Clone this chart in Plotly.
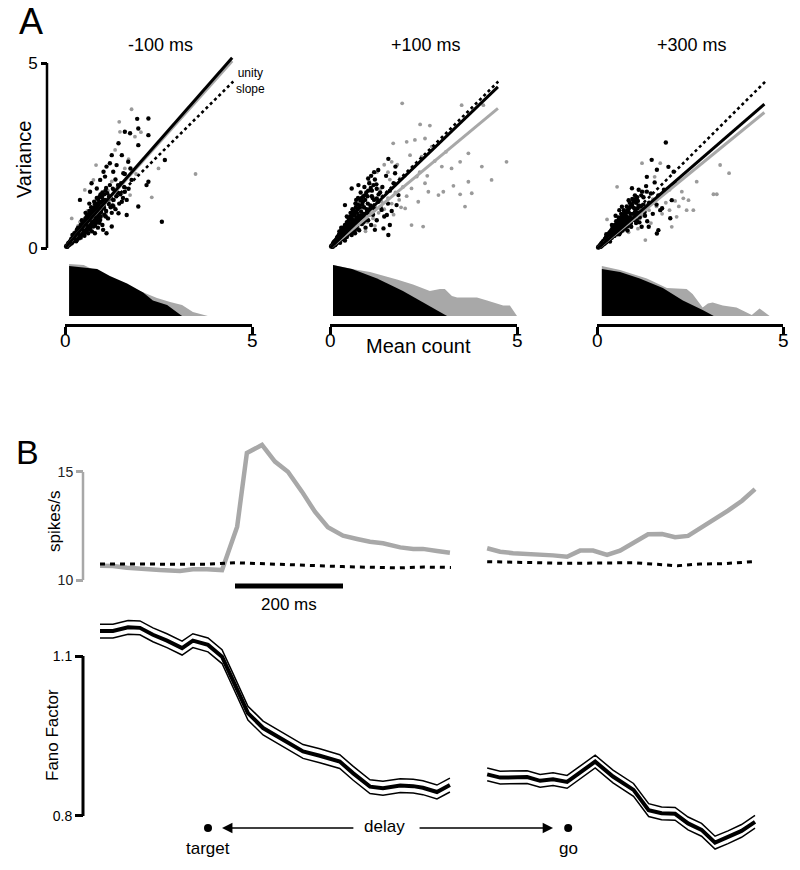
import plotly.graph_objects as go

W, H = 800, 870
FONT = "Liberation Sans, Arial, Helvetica, sans-serif"
GRAY = "#a8a8a8"

# ------------------------------------------------------------------ data: panel A
a_titles = ["-100 ms", "+100 ms", "+300 ms"]
a_ticks = [0, 5]
a_black_slope = [1.15, 0.97, 0.87]
a_gray_slope = [1.13, 0.84, 0.82]
a_line_end = [4.47, 4.49, 4.50]
unity_end = [4.50, 4.50, 4.55]

a1_black = [(1.93, 3.49), (2.23, 3.50), (1.96, 3.23), (1.60, 3.14), (1.74, 3.10), (2.23, 3.05),
            (1.43, 2.83), (1.96, 2.78), (1.25, 2.51), (1.52, 2.51), (1.69, 2.33), (1.11, 2.20),
            (1.03, 2.06), (1.29, 2.06), (2.23, 1.79), (2.67, 2.38), (2.18, 1.70), (1.65, 1.30),
            (1.96, 1.12), (1.65, 0.89), (2.59, 0.71), (1.25, 0.58), (1.11, 0.40), (0.71, 1.75),
            (0.67, 1.52), (0.40, 1.30), (0.85, 1.61), (0.94, 1.84), (1.07, 1.93), (1.20, 2.29),
            (1.38, 2.24), (1.56, 2.02), (1.78, 1.84), (1.47, 1.48), (1.60, 1.52), (1.29, 1.12),
            (1.43, 0.94), (0.94, 0.76), (1.02, 0.49), (0.80, 0.40),
            (0.05, 0.05), (0.08, 0.10), (0.10, 0.08), (0.12, 0.15), (0.15, 0.12), (0.15, 0.20),
            (0.18, 0.22), (0.20, 0.16), (0.22, 0.28), (0.25, 0.22), (0.25, 0.32), (0.28, 0.25),
            (0.30, 0.38), (0.30, 0.30), (0.32, 0.22), (0.35, 0.42), (0.35, 0.30), (0.38, 0.48),
            (0.40, 0.35), (0.40, 0.55), (0.42, 0.28), (0.45, 0.50), (0.45, 0.62), (0.48, 0.40),
            (0.50, 0.70), (0.50, 0.45), (0.52, 0.33), (0.55, 0.60), (0.55, 0.80), (0.58, 0.48),
            (0.60, 0.72), (0.60, 0.90), (0.62, 0.40), (0.65, 0.65), (0.65, 1.00), (0.68, 0.55),
            (0.70, 0.82), (0.70, 1.10), (0.72, 0.45), (0.75, 0.70), (0.75, 0.95), (0.78, 1.25),
            (0.80, 0.60), (0.80, 0.88), (0.82, 1.05), (0.85, 0.75), (0.85, 1.35), (0.88, 0.55),
            (0.90, 1.00), (0.90, 1.20), (0.92, 0.68), (0.95, 0.85), (0.95, 1.45), (1.00, 1.10),
            (1.00, 0.62), (1.02, 1.30), (1.05, 0.90), (1.08, 1.55), (1.10, 1.00), (1.12, 1.25),
            (1.15, 0.80), (1.18, 1.40), (1.20, 1.70), (1.22, 1.10), (1.25, 0.95), (1.28, 1.60),
            (1.30, 1.30), (1.35, 1.85), (1.35, 1.05), (1.40, 1.50), (1.45, 1.20), (1.50, 1.75),
            (1.55, 1.35), (1.60, 2.00), (1.70, 1.60), (1.75, 2.15), (0.20, 0.35), (0.30, 0.18),
            (0.40, 0.45), (0.50, 0.58), (0.60, 0.55), (0.70, 0.60), (0.55, 0.95), (0.45, 0.75),
            (0.35, 0.55), (0.25, 0.40), (0.65, 1.20), (0.78, 0.80), (0.88, 0.90), (0.98, 1.25),
            (1.05, 1.45), (0.32, 0.50), (0.42, 0.62), (0.58, 0.85), (0.68, 0.95), (0.62, 0.70),
            (0.03, 0.04), (0.06, 0.03), (0.07, 0.08), (0.09, 0.13), (0.11, 0.10), (0.13, 0.12),
            (0.14, 0.18), (0.16, 0.15), (0.17, 0.25), (0.19, 0.19), (0.21, 0.22), (0.23, 0.26),
            (0.24, 0.35), (0.26, 0.28), (0.27, 0.20), (0.29, 0.33), (0.31, 0.27), (0.33, 0.36),
            (0.34, 0.47), (0.36, 0.38), (0.37, 0.26), (0.39, 0.42), (0.41, 0.50), (0.43, 0.44),
            (0.44, 0.35), (0.46, 0.56), (0.47, 0.48), (0.49, 0.62), (0.51, 0.51), (0.53, 0.68),
            (0.54, 0.42), (0.56, 0.55), (0.57, 0.74), (0.59, 0.63), (0.61, 0.80), (0.63, 0.58),
            (0.64, 0.87), (0.66, 0.72), (0.67, 0.50), (0.69, 0.90), (0.71, 0.68), (0.73, 0.98),
            (0.74, 0.78), (0.76, 0.58), (0.77, 1.08), (0.79, 0.92), (0.81, 0.70), (0.83, 1.15),
            (0.84, 0.95), (0.86, 1.05), (0.87, 0.82), (0.89, 1.30), (0.91, 1.12), (0.93, 0.95),
            (0.94, 1.22), (0.97, 1.02), (0.99, 1.38), (1.03, 1.18), (1.07, 1.30), (1.09, 0.85),
            (1.13, 1.48), (1.17, 1.20), (1.23, 1.35), (1.27, 1.15), (1.33, 1.55), (1.37, 1.40),
            (1.42, 1.70), (1.48, 1.45), (1.52, 1.25), (1.58, 1.65),
            (0.04, 0.06), (0.08, 0.06), (0.10, 0.14), (0.12, 0.09), (0.14, 0.16), (0.16, 0.21),
            (0.18, 0.13), (0.20, 0.26), (0.22, 0.18), (0.24, 0.29), (0.26, 0.36), (0.28, 0.31),
            (0.30, 0.42), (0.32, 0.33), (0.34, 0.39), (0.36, 0.50), (0.38, 0.34), (0.40, 0.47),
            (0.42, 0.56), (0.44, 0.46), (0.46, 0.66), (0.48, 0.53), (0.50, 0.49), (0.52, 0.64),
            (0.54, 0.74), (0.56, 0.66), (0.58, 0.58), (0.60, 0.84), (0.62, 0.76), (0.64, 0.62),
            (0.66, 0.92), (0.68, 0.80), (0.70, 0.70), (0.72, 1.00), (0.74, 0.88), (0.76, 0.76),
            (0.78, 1.02), (0.80, 1.18), (0.82, 0.90), (0.84, 0.68), (0.86, 1.20), (0.88, 1.10),
            (0.92, 1.38), (0.96, 0.96), (1.00, 1.50), (1.04, 1.10), (1.10, 1.62), (1.16, 1.32)]
a1_gray = [(1.78, 3.75), (1.45, 3.41), (1.47, 3.14), (2.03, 3.13), (0.83, 2.24), (3.49, 2.00),
           (2.32, 1.37), (2.50, 2.15), (0.18, 0.80), (1.87, 3.01), (1.34, 2.65), (0.76, 1.84),
           (0.53, 1.57), (1.74, 1.43),
           (0.10, 0.12), (0.18, 0.15), (0.25, 0.30), (0.30, 0.25), (0.38, 0.40), (0.45, 0.42),
           (0.50, 0.55), (0.55, 0.50), (0.60, 0.65), (0.65, 0.58), (0.70, 0.78), (0.75, 0.65),
           (0.80, 0.95), (0.85, 0.82), (0.90, 0.75), (0.95, 1.05), (1.00, 0.85), (1.05, 1.15),
           (1.10, 0.95), (1.20, 1.30), (1.30, 1.15), (1.40, 1.65), (1.55, 1.50), (0.60, 1.00),
           (0.40, 0.70), (1.70, 2.40), (1.90, 2.00), (0.35, 0.60), (0.52, 0.80), (0.72, 1.02),
           (0.92, 1.25), (1.15, 1.55), (0.28, 0.45), (0.48, 0.68), (1.25, 1.80), (1.60, 2.15)]

a2_black = [(1.56, 2.41), (1.18, 2.05), (1.29, 2.11), (0.58, 1.61), (0.76, 1.70), (1.02, 1.88),
            (1.74, 2.02), (1.83, 1.43), (1.60, 0.62), (1.43, 0.53), (1.56, 0.35), (1.20, 0.49),
            (1.78, 1.16), (1.52, 0.89), (0.94, 1.43), (0.40, 1.16), (1.25, 1.34), (1.38, 1.03),
            (0.05, 0.05), (0.08, 0.12), (0.10, 0.06), (0.12, 0.18), (0.15, 0.10), (0.18, 0.25),
            (0.20, 0.15), (0.22, 0.32), (0.25, 0.20), (0.28, 0.38), (0.30, 0.25), (0.32, 0.45),
            (0.35, 0.30), (0.35, 0.55), (0.38, 0.22), (0.40, 0.62), (0.42, 0.38), (0.45, 0.70),
            (0.45, 0.30), (0.48, 0.52), (0.50, 0.80), (0.52, 0.42), (0.55, 0.65), (0.55, 0.95),
            (0.58, 0.35), (0.60, 0.75), (0.60, 1.05), (0.62, 0.50), (0.65, 0.88), (0.68, 1.20),
            (0.70, 0.60), (0.72, 0.95), (0.75, 1.35), (0.78, 0.48), (0.80, 0.80), (0.80, 1.10),
            (0.82, 1.50), (0.85, 0.65), (0.88, 1.25), (0.90, 0.92), (0.92, 1.65), (0.95, 0.55),
            (0.98, 1.05), (1.00, 1.40), (1.02, 0.75), (1.05, 1.75), (1.08, 1.15), (1.10, 0.62),
            (1.12, 1.55), (1.15, 0.90), (1.18, 1.30), (1.20, 1.85), (1.25, 0.75), (1.30, 1.45),
            (1.35, 1.10), (1.40, 1.65), (1.45, 0.85), (1.50, 1.95), (1.55, 1.20), (1.60, 1.55),
            (1.65, 1.00), (1.70, 1.75), (1.75, 2.20), (0.25, 0.45), (0.40, 0.20), (0.50, 0.60),
            (0.65, 0.45), (0.75, 0.75), (0.90, 0.70), (1.00, 1.00), (0.30, 0.55), (0.45, 0.85),
            (0.60, 0.95), (0.85, 1.35), (0.70, 1.30), (1.10, 1.95), (1.25, 1.60),
            (0.03, 0.04), (0.06, 0.07), (0.07, 0.03), (0.09, 0.10), (0.11, 0.14), (0.13, 0.09),
            (0.14, 0.20), (0.16, 0.16), (0.17, 0.12), (0.19, 0.28), (0.21, 0.22), (0.23, 0.18),
            (0.24, 0.36), (0.26, 0.28), (0.27, 0.14), (0.29, 0.42), (0.31, 0.34), (0.33, 0.28),
            (0.34, 0.50), (0.36, 0.40), (0.37, 0.33), (0.39, 0.55), (0.41, 0.46), (0.43, 0.30),
            (0.44, 0.62), (0.46, 0.50), (0.47, 0.40), (0.49, 0.72), (0.51, 0.55), (0.53, 0.45),
            (0.54, 0.85), (0.56, 0.62), (0.57, 0.50), (0.59, 0.90), (0.61, 0.68), (0.63, 0.58),
            (0.64, 1.00), (0.66, 0.75), (0.67, 0.40), (0.69, 1.10), (0.71, 0.82), (0.73, 0.62),
            (0.74, 1.18), (0.76, 0.88), (0.79, 0.70), (0.81, 1.28), (0.83, 0.98), (0.86, 0.80),
            (0.89, 1.40), (0.91, 1.10), (0.94, 0.75), (0.97, 1.50), (1.01, 1.20), (1.04, 0.90),
            (1.09, 1.62), (1.14, 1.35), (1.19, 1.05), (1.24, 1.72), (1.29, 1.25), (1.34, 1.50),
            (0.04, 0.06), (0.08, 0.08), (0.10, 0.16), (0.12, 0.12), (0.14, 0.08), (0.16, 0.22),
            (0.18, 0.18), (0.20, 0.30), (0.22, 0.24), (0.24, 0.16), (0.26, 0.40), (0.28, 0.30),
            (0.30, 0.48), (0.32, 0.36), (0.34, 0.24), (0.36, 0.52), (0.38, 0.42), (0.40, 0.30),
            (0.42, 0.60), (0.44, 0.48), (0.46, 0.36), (0.48, 0.66), (0.50, 0.52), (0.52, 0.40),
            (0.54, 0.76), (0.56, 0.58), (0.58, 0.80), (0.60, 0.62), (0.62, 0.45), (0.64, 0.92),
            (0.66, 0.68), (0.68, 0.98), (0.70, 0.72), (0.72, 0.52), (0.74, 1.05), (0.76, 0.80),
            (0.78, 1.15), (0.82, 0.88), (0.86, 1.18), (0.90, 0.82), (0.94, 1.30), (0.98, 0.95),
            (1.02, 1.55), (1.06, 1.05), (1.12, 1.40), (1.16, 1.70)]
a2_gray = [(1.93, 3.91), (3.52, 3.86), (4.10, 3.86), (2.41, 3.34), (2.67, 3.31), (1.69, 2.83),
           (2.05, 2.87), (2.27, 2.92), (2.54, 2.96), (2.72, 2.74), (2.14, 2.51), (2.45, 2.47),
           (2.99, 2.20), (3.48, 2.33), (3.70, 2.56), (4.06, 2.20), (4.72, 2.33), (4.32, 1.84),
           (3.70, 1.79), (3.30, 1.68), (3.03, 1.52), (2.90, 1.43), (2.63, 1.52), (2.54, 1.75),
           (3.48, 1.45), (3.79, 1.48), (3.61, 1.12), (2.36, 1.25), (2.18, 0.62), (2.49, 0.58),
           (2.01, 1.07), (2.18, 1.61), (1.87, 1.88), (1.65, 2.33), (3.25, 2.15), (2.32, 1.93),
           (0.10, 0.08), (0.18, 0.14), (0.25, 0.22), (0.30, 0.30), (0.38, 0.28), (0.45, 0.40),
           (0.50, 0.35), (0.55, 0.50), (0.62, 0.45), (0.68, 0.62), (0.75, 0.55), (0.80, 0.72),
           (0.88, 0.65), (0.95, 0.85), (1.00, 0.70), (1.08, 0.95), (1.15, 0.80), (1.22, 1.10),
           (1.30, 0.95), (1.38, 1.25), (1.45, 1.05), (1.55, 1.35), (1.65, 1.20), (1.75, 1.50),
           (1.85, 1.30), (1.95, 1.65), (2.05, 1.40), (0.40, 0.60), (0.60, 0.85), (0.85, 1.05),
           (1.10, 1.40), (1.35, 1.60), (1.60, 1.85), (1.25, 2.05), (1.45, 2.25), (1.05, 1.80),
           (1.55, 2.05), (1.80, 2.25), (2.00, 1.95), (1.20, 0.60), (0.95, 0.45), (1.70, 0.90),
           (1.90, 1.10), (2.25, 2.20), (2.60, 1.95), (2.80, 2.35), (3.10, 2.60), (2.40, 2.05)]

a3_black = [(1.85, 2.88), (1.47, 2.41), (1.61, 2.14), (1.92, 2.22), (2.06, 2.09), (1.34, 1.95),
            (0.94, 1.64), (1.21, 1.55), (2.01, 1.32), (1.70, 1.05), (1.97, 0.83), (1.65, 0.51),
            (1.61, 0.42), (1.39, 0.60), (1.07, 0.78), (2.10, 1.78), (0.85, 1.32), (0.67, 1.14),
            (0.05, 0.05), (0.08, 0.10), (0.10, 0.06), (0.12, 0.16), (0.15, 0.10), (0.18, 0.22),
            (0.20, 0.14), (0.22, 0.28), (0.25, 0.18), (0.28, 0.35), (0.30, 0.22), (0.32, 0.42),
            (0.35, 0.28), (0.38, 0.50), (0.40, 0.32), (0.42, 0.58), (0.45, 0.35), (0.48, 0.65),
            (0.50, 0.42), (0.52, 0.75), (0.55, 0.48), (0.58, 0.85), (0.60, 0.40), (0.62, 0.68),
            (0.65, 0.95), (0.68, 0.55), (0.70, 0.80), (0.72, 1.05), (0.75, 0.62), (0.78, 0.90),
            (0.80, 1.15), (0.82, 0.50), (0.85, 0.75), (0.88, 1.25), (0.90, 0.95), (0.92, 0.60),
            (0.95, 1.35), (0.98, 0.82), (1.00, 1.10), (1.02, 1.45), (1.05, 0.70), (1.08, 0.98),
            (1.10, 1.30), (1.12, 1.60), (1.15, 0.85), (1.18, 1.15), (1.20, 0.60), (1.25, 1.40),
            (1.28, 1.00), (1.32, 1.70), (1.35, 0.75), (1.40, 1.25), (1.45, 1.50), (1.50, 0.95),
            (1.55, 1.80), (1.60, 1.20), (1.65, 1.45), (1.75, 1.10), (1.80, 1.60), (0.25, 0.40),
            (0.35, 0.20), (0.45, 0.55), (0.55, 0.65), (0.65, 0.75), (0.75, 0.85), (0.85, 1.00),
            (0.40, 0.65), (0.50, 0.90), (0.60, 1.05), (0.95, 1.15), (1.05, 1.25),
            (0.03, 0.04), (0.06, 0.05), (0.07, 0.09), (0.09, 0.07), (0.11, 0.13), (0.13, 0.11),
            (0.14, 0.18), (0.16, 0.14), (0.17, 0.22), (0.19, 0.17), (0.21, 0.26), (0.23, 0.20),
            (0.24, 0.32), (0.26, 0.24), (0.27, 0.30), (0.29, 0.26), (0.31, 0.38), (0.33, 0.30),
            (0.34, 0.45), (0.36, 0.34), (0.37, 0.40), (0.39, 0.30), (0.41, 0.48), (0.43, 0.40),
            (0.44, 0.55), (0.46, 0.44), (0.47, 0.36), (0.49, 0.58), (0.51, 0.50), (0.53, 0.62),
            (0.54, 0.40), (0.56, 0.70), (0.57, 0.56), (0.59, 0.78), (0.61, 0.60), (0.63, 0.45),
            (0.64, 0.82), (0.66, 0.66), (0.67, 0.88), (0.69, 0.50), (0.71, 0.72), (0.73, 0.95),
            (0.74, 0.70), (0.76, 0.55), (0.79, 1.00), (0.81, 0.80), (0.83, 0.62), (0.86, 1.10),
            (0.89, 0.85), (0.91, 0.70), (0.94, 1.20), (0.97, 0.95), (1.01, 0.78), (1.04, 1.35),
            (1.09, 1.10), (1.14, 0.72), (1.19, 1.45), (1.24, 1.20), (1.29, 0.90), (1.34, 1.55),
            (0.04, 0.06), (0.08, 0.07), (0.10, 0.12), (0.12, 0.08), (0.14, 0.14), (0.16, 0.19),
            (0.18, 0.15), (0.20, 0.24), (0.22, 0.17), (0.24, 0.27), (0.26, 0.34), (0.28, 0.24),
            (0.30, 0.36), (0.32, 0.28), (0.34, 0.40), (0.36, 0.47), (0.38, 0.36), (0.40, 0.52),
            (0.42, 0.40), (0.44, 0.48), (0.46, 0.60), (0.48, 0.45), (0.50, 0.64), (0.52, 0.50),
            (0.54, 0.72), (0.56, 0.56), (0.58, 0.46), (0.60, 0.76), (0.62, 0.60), (0.64, 0.70),
            (0.66, 0.86), (0.68, 0.64), (0.70, 0.92), (0.72, 0.62), (0.74, 1.00), (0.78, 0.76),
            (0.82, 1.05), (0.86, 0.85), (0.90, 1.15), (0.94, 0.82), (0.98, 1.28), (1.02, 1.00),
            (1.08, 1.40), (1.12, 1.18)]
a3_gray = [(3.31, 2.27), (3.55, 2.05), (3.13, 1.48), (3.22, 1.48), (2.68, 1.82), (2.28, 1.55),
           (2.46, 1.32), (2.41, 1.05), (2.59, 1.05), (2.14, 0.87), (2.01, 0.60), (1.30, 0.24),
           (1.70, 2.32), (1.21, 2.32), (0.54, 1.68), (0.27, 0.80), (2.32, 1.37),
           (0.10, 0.10), (0.18, 0.14), (0.25, 0.24), (0.32, 0.26), (0.40, 0.38), (0.48, 0.40),
           (0.55, 0.52), (0.62, 0.50), (0.70, 0.65), (0.78, 0.60), (0.85, 0.82), (0.92, 0.70),
           (1.00, 0.95), (1.08, 0.80), (1.15, 1.05), (1.22, 0.90), (1.30, 1.20), (1.40, 1.05),
           (1.50, 1.35), (1.60, 1.15), (1.70, 1.45), (1.85, 1.25), (1.95, 1.60), (2.10, 1.30),
           (0.50, 0.75), (0.75, 1.05), (1.00, 1.30), (1.25, 1.55), (1.45, 0.70), (1.75, 0.95),
           (1.95, 1.05), (2.20, 1.15), (1.10, 0.55), (0.85, 0.45), (1.55, 1.95), (2.05, 1.75)]

# mean-count distributions (x = mean count, h = relative density)
a1_hist_black_x = [0.11, 0.11, 0.86, 1.20, 1.66, 2.09, 2.35, 2.73, 3.13]
a1_hist_black_h = [0.00, 1.00, 0.94, 0.80, 0.65, 0.47, 0.31, 0.22, 0.00]
a1_hist_gray_x = [0.11, 0.11, 0.50, 1.50, 2.10, 2.46, 2.81, 3.13, 3.42, 3.82]
a1_hist_gray_h = [0.00, 1.04, 1.02, 0.66, 0.47, 0.36, 0.28, 0.22, 0.08, 0.00]
a2_hist_black_x = [0.08, 0.08, 0.59, 1.26, 1.95, 2.41, 3.13]
a2_hist_black_h = [0.00, 1.02, 0.94, 0.75, 0.50, 0.31, 0.00]
a2_hist_gray_x = [0.08, 0.08, 0.59, 1.07, 1.79, 2.22, 2.67, 2.94, 3.07, 3.26, 3.40, 3.93, 4.20, 4.63, 4.81, 5.00]
a2_hist_gray_h = [0.00, 1.02, 0.94, 0.88, 0.73, 0.63, 0.50, 0.54, 0.54, 0.40, 0.37, 0.37, 0.31, 0.21, 0.21, 0.00]
a3_hist_black_x = [0.13, 0.13, 0.62, 1.15, 1.77, 2.31, 2.84, 3.14]
a3_hist_black_h = [0.00, 0.94, 0.88, 0.75, 0.56, 0.31, 0.12, 0.00]
a3_hist_gray_x = [0.13, 0.13, 0.62, 1.34, 1.88, 2.41, 2.57, 2.84, 2.98, 3.11, 3.38, 3.75, 4.16, 4.37, 4.64]
a3_hist_gray_h = [0.00, 1.00, 0.92, 0.75, 0.56, 0.54, 0.44, 0.17, 0.25, 0.27, 0.21, 0.17, 0.02, 0.15, 0.00]

# ------------------------------------------------------------------ data: panel B
GO_TIME = 667  # position of the go cue on the shared time axis (ms after target)

rate_t1 = [-200, -176, -150, -120, -89, -52, -28, -2, 26, 37, 54, 72, 100, 124, 148, 174, 198,
           222, 250, 276, 300, 324, 356, 380, 398, 424, 448]
rate_v1 = [10.66, 10.65, 10.57, 10.50, 10.46, 10.42, 10.50, 10.50, 10.46, 11.25, 12.47, 15.88,
           16.25, 15.48, 15.01, 14.09, 13.16, 12.44, 12.05, 11.90, 11.77, 11.70, 11.51, 11.44,
           11.44, 11.34, 11.26]
rate_t2 = [-150, -126, -102, -76, -52, -28, -2, 22, 46, 72, 96, 120, 148, 174, 198, 222, 248,
           272, 296, 322, 346]
rate_v2 = [11.47, 11.31, 11.24, 11.22, 11.20, 11.14, 11.08, 11.36, 11.36, 11.16, 11.36, 11.73,
           12.12, 12.13, 11.98, 12.04, 12.44, 12.84, 13.21, 13.67, 14.21]

ctrl_t1 = [-200, -100, 0, 50, 100, 175, 250, 350, 400, 450]
ctrl_v1 = [10.74, 10.74, 10.73, 10.80, 10.75, 10.67, 10.62, 10.56, 10.60, 10.58]
ctrl_t2 = [-150, -80, -2, 120, 183, 202, 244, 290, 344]
ctrl_v2 = [10.85, 10.80, 10.77, 10.80, 10.69, 10.66, 10.74, 10.76, 10.85]

fano_t1 = [-200, -176, -148, -126, -102, -76, -48, -28, 0, 26, 46, 74, 102, 139, 176, 207, 244,
           269, 300, 324, 356, 380, 398, 424, 448]
fano_m1 = [1.147, 1.147, 1.154, 1.153, 1.140, 1.129, 1.115, 1.129, 1.121, 1.099, 1.055, 0.993,
           0.965, 0.943, 0.921, 0.913, 0.902, 0.880, 0.855, 0.852, 0.857, 0.856, 0.853, 0.845,
           0.858]
fano_se1 = [0.013, 0.013, 0.013, 0.013, 0.013, 0.013, 0.013, 0.013, 0.013, 0.013, 0.013, 0.013,
            0.013, 0.013, 0.013, 0.013, 0.013, 0.013, 0.013, 0.013, 0.013, 0.013, 0.013, 0.013,
            0.013]
fano_t2 = [-150, -126, -76, -52, -28, -2, 50, 83, 121, 149, 173, 198, 222, 247, 272, 296, 321, 346]
fano_m2 = [0.878, 0.872, 0.873, 0.866, 0.869, 0.864, 0.902, 0.874, 0.849, 0.811, 0.805, 0.804,
           0.786, 0.774, 0.750, 0.760, 0.772, 0.789]
fano_se2 = [0.012, 0.012, 0.012, 0.012, 0.012, 0.012, 0.012, 0.012, 0.012, 0.012, 0.012, 0.012,
            0.012, 0.012, 0.012, 0.012, 0.012, 0.012]

scalebar_t = [50, 250]
rate_ticks = [10, 15]
fano_ticks = [0.8, 1.1]

# ------------------------------------------------------------------ layout helpers
def px(x):
    return x / W


def py(y):
    return 1 - y / H


fig = go.Figure()
layout = dict(width=W, height=H, margin=dict(l=0, r=0, t=0, b=0, autoexpand=False),
              paper_bgcolor="white", plot_bgcolor="white", showlegend=False,
              font=dict(family=FONT, color="black"))
shapes, annotations = [], []

A_XPX = [(65, 252), (330, 517), (597, 783)]
A_ORIGIN = [248, 248, 249]
A_YUNIT = 37.0
A_YMAX = 5.4
scatters = [(a1_black, a1_gray), (a2_black, a2_gray), (a3_black, a3_gray)]
hists = [(a1_hist_black_x, a1_hist_black_h, a1_hist_gray_x, a1_hist_gray_h),
         (a2_hist_black_x, a2_hist_black_h, a2_hist_gray_x, a2_hist_gray_h),
         (a3_hist_black_x, a3_hist_black_h, a3_hist_gray_x, a3_hist_gray_h)]

for i in range(3):
    xref = "x" if i == 0 else f"x{i + 1}"
    sy = "y" if i == 0 else f"y{2 * i + 1}"
    hy = f"y{2 * i + 2}"
    xkey = "xaxis" if i == 0 else f"xaxis{i + 1}"
    skey = "yaxis" if i == 0 else f"yaxis{2 * i + 1}"
    hkey = f"yaxis{2 * i + 2}"
    x0, x5 = A_XPX[i]
    org = A_ORIGIN[i]
    layout[xkey] = dict(domain=[px(x0), px(x5)], range=[0, 5], anchor="free", position=py(325),
                        showline=True, linecolor="black", linewidth=2.5, ticks="outside",
                        ticklen=8, tickwidth=2.5, tickcolor="black", tickvals=a_ticks,
                        showticklabels=False, showgrid=False, zeroline=False)
    for tv in a_ticks:
        annotations.append(dict(text=str(tv), xref=xref, yref="paper", x=tv, y=py(341),
                                showarrow=False, font=dict(size=19, family=FONT),
                                xanchor="center", yanchor="middle"))
    sdict = dict(domain=[py(org), py(org - A_YMAX * A_YUNIT)], range=[0, A_YMAX],
                 showgrid=False, zeroline=False, showline=False)
    if i == 0:
        sdict.update(anchor="free", position=px(47), ticks="outside", ticklen=6, tickwidth=2.5,
                     tickcolor="black", tickvals=a_ticks, tickfont=dict(size=17, family=FONT))
        shapes.append(dict(type="line", xref="paper", yref=sy, x0=px(47), x1=px(47),
                           y0=a_ticks[0], y1=a_ticks[1], line=dict(color="black", width=2.5)))
    else:
        sdict.update(visible=False, anchor=xref)
    layout[skey] = sdict
    layout[hkey] = dict(domain=[py(316), py(264)], range=[0, 1.04], visible=False, anchor=xref)

    hbx, hbh, hgx, hgh = hists[i]
    fig.add_trace(go.Scatter(x=hgx, y=hgh, xaxis=xref, yaxis=hy, mode="lines", fill="tozeroy",
                             fillcolor=GRAY, line=dict(width=0, color=GRAY), hoverinfo="skip"))
    fig.add_trace(go.Scatter(x=hbx, y=hbh, xaxis=xref, yaxis=hy, mode="lines", fill="tozeroy",
                             fillcolor="black", line=dict(width=0, color="black"), hoverinfo="skip"))

    blk, gry = scatters[i]
    fig.add_trace(go.Scatter(x=[p[0] for p in gry], y=[p[1] for p in gry], xaxis=xref, yaxis=sy,
                             mode="markers", cliponaxis=False,
                             marker=dict(size=3.8, color="#9a9a9a", line=dict(width=0))))
    fig.add_trace(go.Scatter(x=[p[0] for p in blk], y=[p[1] for p in blk], xaxis=xref, yaxis=sy,
                             mode="markers", cliponaxis=False,
                             marker=dict(size=4.4, color="black", line=dict(width=0))))
    xe = a_line_end[i]
    fig.add_trace(go.Scatter(x=[0, xe], y=[0, a_gray_slope[i] * xe], xaxis=xref, yaxis=sy,
                             mode="lines", line=dict(color=GRAY, width=3)))
    fig.add_trace(go.Scatter(x=[0, xe], y=[0, a_black_slope[i] * xe], xaxis=xref, yaxis=sy,
                             mode="lines", line=dict(color="black", width=3)))
    ue = unity_end[i]
    fig.add_trace(go.Scatter(x=[0, ue], y=[0, ue], xaxis=xref, yaxis=sy, mode="lines",
                             line=dict(color="black", width=2.6, dash="3px,3px")))
    annotations.append(dict(text=a_titles[i], xref="paper", yref="paper",
                            x=px((x0 + x5) / 2 + 2), y=py(45), showarrow=False,
                            font=dict(size=18, family=FONT), xanchor="center", yanchor="middle"))

annotations += [
    dict(text="A", xref="paper", yref="paper", x=px(31), y=py(21), showarrow=False,
         font=dict(size=36, family=FONT), xanchor="center", yanchor="middle"),
    dict(text="unity<br>slope", xref="paper", yref="paper", x=px(251), y=py(81), showarrow=False,
         font=dict(size=12, family=FONT), xanchor="center", yanchor="middle", align="center"),
    dict(text="Variance", xref="paper", yref="paper", x=px(24), y=py(160), showarrow=False,
         textangle=-90, font=dict(size=20, family=FONT), xanchor="center", yanchor="middle"),
    dict(text="Mean count", xref="paper", yref="paper", x=px(418), y=py(346), showarrow=False,
         font=dict(size=20, family=FONT), xanchor="center", yanchor="middle"),
    dict(text="B", xref="paper", yref="paper", x=px(27), y=py(452), showarrow=False,
         font=dict(size=34, family=FONT), xanchor="center", yanchor="middle"),
]

# ------------------------------------------------------------------ panel B
T_PER_PX = 1 / 0.54
layout["xaxis4"] = dict(domain=[0, 1], range=[(0 - 208) * T_PER_PX, (800 - 208) * T_PER_PX],
                        visible=False, anchor="y7")
layout["yaxis7"] = dict(domain=[py(590.8), py(433.1)], range=[9.5, 16.8], anchor="free",
                        position=px(83), showgrid=False, zeroline=False, showline=False,
                        ticks="outside", ticklen=7, tickwidth=2.5, tickcolor=GRAY,
                        tickvals=rate_ticks, tickfont=dict(size=14, family=FONT, color="#222"))
layout["yaxis8"] = dict(domain=[py(858.6), py(618.8)], range=[0.72, 1.17], anchor="free",
                        position=px(83), showgrid=False, zeroline=False, showline=False,
                        ticks="outside", ticklen=8, tickwidth=3, tickcolor="black",
                        tickvals=fano_ticks, ticktext=["0.8", "1.1"],
                        tickfont=dict(size=14, family=FONT))
shapes.append(dict(type="line", xref="paper", yref="y7", x0=px(83), x1=px(83),
                   y0=rate_ticks[0], y1=rate_ticks[1], line=dict(color=GRAY, width=2.5)))
shapes.append(dict(type="line", xref="paper", yref="y8", x0=px(83), x1=px(83),
                   y0=fano_ticks[0], y1=fano_ticks[1], line=dict(color="black", width=3)))

# firing rate
for tt, vv in ((rate_t1, rate_v1), ([t + GO_TIME for t in rate_t2], rate_v2)):
    fig.add_trace(go.Scatter(x=tt, y=vv, xaxis="x4", yaxis="y7", mode="lines",
                             line=dict(color=GRAY, width=4.5)))
for tt, vv in ((ctrl_t1, ctrl_v1), ([t + GO_TIME for t in ctrl_t2], ctrl_v2)):
    fig.add_trace(go.Scatter(x=tt, y=vv, xaxis="x4", yaxis="y7", mode="lines",
                             line=dict(color="black", width=3, dash="5px,5px")))
fig.add_trace(go.Scatter(x=scalebar_t, y=[9.72, 9.72], xaxis="x4", yaxis="y7", mode="lines",
                         line=dict(color="black", width=5)))

# Fano factor (mean with +/- SE outlines)
for tt, mm, se in ((fano_t1, fano_m1, fano_se1),
                   ([t + GO_TIME for t in fano_t2], fano_m2, fano_se2)):
    fig.add_trace(go.Scatter(x=tt, y=[m + s for m, s in zip(mm, se)], xaxis="x4", yaxis="y8",
                             mode="lines", line=dict(color="black", width=1.5)))
    fig.add_trace(go.Scatter(x=tt, y=[m - s for m, s in zip(mm, se)], xaxis="x4", yaxis="y8",
                             mode="lines", line=dict(color="black", width=1.5)))
    fig.add_trace(go.Scatter(x=tt, y=mm, xaxis="x4", yaxis="y8", mode="lines",
                             line=dict(color="black", width=4)))

# events
EVENT_Y = 0.7775
fig.add_trace(go.Scatter(x=[0, GO_TIME], y=[EVENT_Y, EVENT_Y], xaxis="x4", yaxis="y8",
                         mode="markers", cliponaxis=False, marker=dict(size=8, color="black")))
annotations += [
    dict(text="200 ms", xref="x4", yref="paper", x=sum(scalebar_t) / 2, y=py(604),
         showarrow=False, font=dict(size=17, family=FONT), xanchor="center", yanchor="middle"),
    dict(text="spikes/s", xref="paper", yref="paper", x=px(54), y=py(522), showarrow=False,
         textangle=-90, font=dict(size=17, family=FONT), xanchor="center", yanchor="middle"),
    dict(text="Fano Factor", xref="paper", yref="paper", x=px(52), y=py(735), showarrow=False,
         textangle=-90, font=dict(size=17, family=FONT), xanchor="center", yanchor="middle"),
    dict(text="target", xref="x4", yref="y8", x=0, y=0.739, showarrow=False,
         font=dict(size=17, family=FONT), xanchor="center", yanchor="middle"),
    dict(text="go", xref="x4", yref="y8", x=GO_TIME, y=0.739, showarrow=False,
         font=dict(size=17, family=FONT), xanchor="center", yanchor="middle"),
    dict(text="delay", xref="x4", yref="y8", x=326, y=EVENT_Y + 0.002, showarrow=False,
         font=dict(size=17, family=FONT), xanchor="center", yanchor="middle"),
    dict(text="", xref="x4", yref="y8", x=26, y=EVENT_Y, ax=272, ay=EVENT_Y, axref="x4",
         ayref="y8", showarrow=True, arrowhead=2, arrowsize=1.3, arrowwidth=1.6,
         arrowcolor="black"),
    dict(text="", xref="x4", yref="y8", x=639, y=EVENT_Y, ax=389, ay=EVENT_Y, axref="x4",
         ayref="y8", showarrow=True, arrowhead=2, arrowsize=1.3, arrowwidth=1.6,
         arrowcolor="black"),
]

layout["shapes"] = shapes
layout["annotations"] = annotations
fig.update_layout(**layout)
# remove the browser's default 8px page margin so the figure sits at the window origin
fig.write_html("out.html", config={"displayModeBar": False},
               post_script="document.body.style.margin='0px';")
